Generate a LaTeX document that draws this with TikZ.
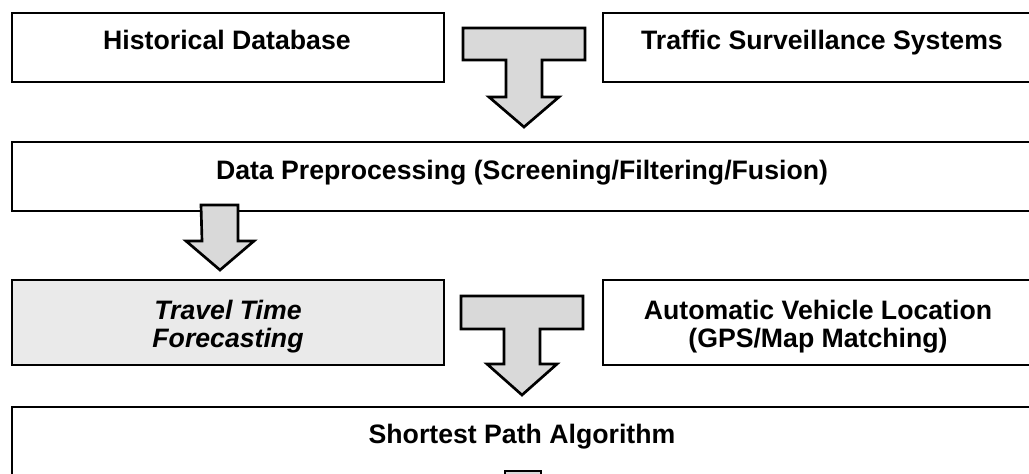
\documentclass[tikz,border=0pt]{standalone}
\usepackage{fontspec}
\setmainfont{Liberation Sans}
\usetikzlibrary{fit}
\definecolor{arrowgray}{HTML}{D9D9D9}
\definecolor{boxgray}{HTML}{EAEAEA}
\tikzset{
  box/.style={draw=black, line width=2.1pt, rectangle, inner sep=0pt},
  lbl/.style={font=\fontsize{20}{21.3}\selectfont\bfseries, inner sep=0pt, align=center},
  ilbl/.style={lbl, font=\fontsize{20}{21.3}\selectfont\bfseries\itshape},
  blockarrow/.style={draw=black, fill=arrowgray, line width=2pt, line join=miter},
}
\begin{document}
\begin{tikzpicture}[x=0.75pt, y=-0.75pt]
\useasboundingbox (0,0) rectangle (1029,474);
\clip (0,0) rectangle (1029,474);
% boxes
\node[box, fit={(12,13) (444,82)}] (hist) {};
\node[box, fit={(603,13) (1040,82)}] (traffic) {};
\node[box, fit={(12,142) (1035,211)}] (prep) {};
\node[box, fill=boxgray, fit={(12,280) (444,365)}] (travel) {};
\node[box, fit={(603,280) (1040,365)}] (avl) {};
\node[box, fit={(12,407) (1035,520)}] (spa) {};
% labels
\node[lbl, anchor=base] (histT) at (227,50) {Historical Database};
\node[lbl, anchor=base] (trafT) at (822,50) {Traffic Surveillance Systems};
\node[lbl, anchor=base] (prepT) at (522,179.5) {Data Preprocessing (Screening/Filtering/Fusion)};
\node[ilbl, anchor=north] (travelT) at (228,300) {Travel Time\\Forecasting};
\node[lbl, anchor=north] (avlT) at (818,300) {Automatic Vehicle Location\\(GPS/Map Matching)};
\node[lbl, anchor=base] (spaT) at (522,443.5) {Shortest Path Algorithm};
% block arrows
\coordinate (t1) at (524,28);
\draw[blockarrow] (t1) ++(-61,0) -- ++(122,0) -- ++(0,32) -- ++(-43,0) -- ++(0,37)
  -- ++(17,0) -- ++(-35,30) -- ++(-35,-30) -- ++(17,0) -- ++(0,-37) -- ++(-43,0) -- cycle;
\coordinate (t2) at (522,296);
\draw[blockarrow] (t2) ++(-61,0) -- ++(122,0) -- ++(0,33) -- ++(-43,0) -- ++(0,35)
  -- ++(17,0) -- ++(-35,31) -- ++(-35,-31) -- ++(17,0) -- ++(0,-35) -- ++(-43,0) -- cycle;
\coordinate (a1) at (219.5,205);
\draw[blockarrow] (a1) ++(-18.5,0) -- ++(37,0) -- ++(0,36) -- ++(16,0) -- ++(-34,29)
  -- ++(-34,-29) -- ++(16,0) -- cycle;
\coordinate (a2) at (523,471);
\draw[blockarrow] (a2) ++(-18,40) -- ++(0,-40) -- ++(36,0) -- ++(0,40);
\end{tikzpicture}
\end{document}
